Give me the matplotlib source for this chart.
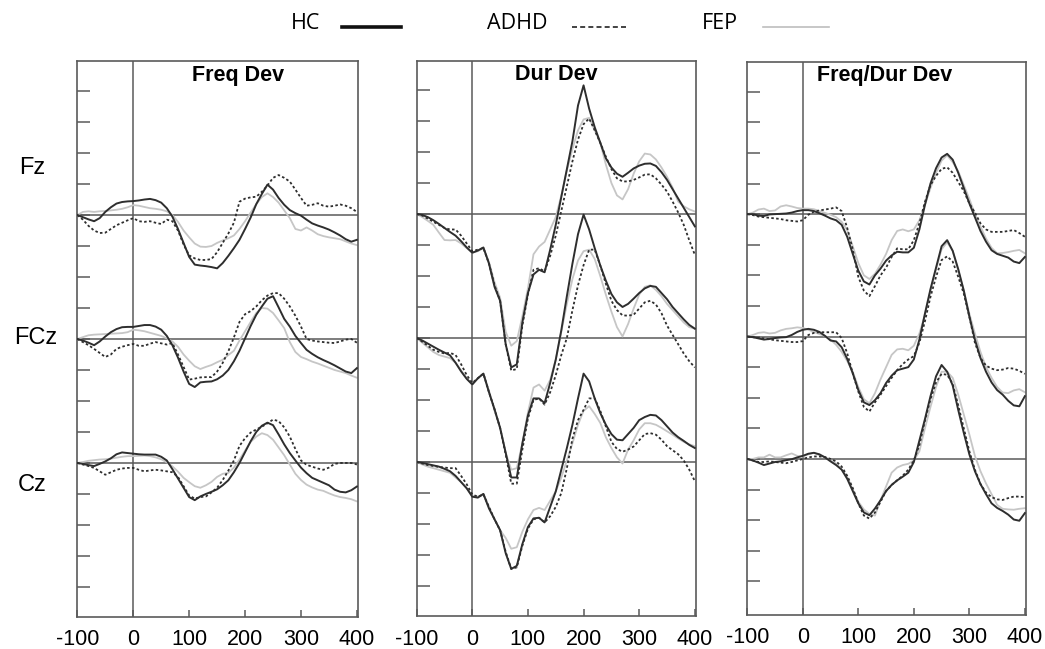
import numpy as np
import matplotlib.pyplot as plt
from matplotlib.lines import Line2D

# time axis (ms), 10 ms steps
ms = np.arange(-100, 401, 10)

# amplitudes (1 tick = 1 unit), relative to each electrode baseline
# ---- Freq Dev ----
freq_fz_hc = [0, -0.07, -0.14, -0.2, -0.1, 0.1, 0.25, 0.37, 0.42, 0.44, 0.45, 0.47, 0.5, 0.52, 0.48, 0.4, 0.22,
              -0.05, -0.45, -0.9, -1.35, -1.6, -1.63, -1.65, -1.68, -1.72, -1.55, -1.32, -1.07, -0.8, -0.45, -0.08,
              0.35, 0.68, 0.98, 0.82, 0.55, 0.33, 0.16, 0.06, -0.02, -0.15, -0.27, -0.34, -0.4, -0.47, -0.56, -0.66,
              -0.78, -0.86, -0.8]
freq_fz_adhd = [0, -0.15, -0.35, -0.5, -0.58, -0.57, -0.45, -0.33, -0.25, -0.17, -0.1, -0.2, -0.22, -0.2, -0.25,
                -0.29, -0.15, -0.2, -0.5, -0.95, -1.3, -1.4, -1.45, -1.45, -1.42, -1.2, -0.9, -0.6, -0.25, 0.43,
                0.53, 0.57, 0.59, 0.75, 0.95, 1.2, 1.29, 1.2, 1.08, 0.82, 0.55, 0.3, 0.33, 0.38, 0.3, 0.27, 0.3,
                0.34, 0.3, 0.22, 0.1]
freq_fz_fep = [0, 0.1, 0.12, 0.1, 0.12, 0.13, 0.15, 0.17, 0.2, 0.25, 0.32, 0.3, 0.26, 0.22, 0.2, 0.17, 0.12, 0.0,
               -0.22, -0.5, -0.72, -0.92, -1.02, -1.03, -1.0, -0.9, -0.82, -0.75, -0.66, -0.45, -0.2, 0.08, 0.35,
               0.58, 0.7, 0.58, 0.4, 0.15, -0.1, -0.45, -0.5, -0.4, -0.5, -0.62, -0.68, -0.72, -0.75, -0.78, -0.85,
               -0.92, -0.97]
freq_fcz_hc = [0, -0.05, -0.12, -0.2, -0.08, 0.08, 0.22, 0.32, 0.38, 0.39, 0.39, 0.42, 0.45, 0.45, 0.4, 0.3, 0.1,
               -0.2, -0.6, -1.05, -1.45, -1.55, -1.4, -1.38, -1.37, -1.3, -1.18, -1.0, -0.72, -0.38, 0.02, 0.42,
               0.78, 1.05, 1.3, 1.38, 1.02, 0.65, 0.4, 0.1, -0.13, -0.35, -0.48, -0.59, -0.68, -0.76, -0.85, -0.95,
               -1.05, -1.1, -0.94]
freq_fcz_adhd = [0, -0.1, -0.2, -0.32, -0.45, -0.58, -0.5, -0.32, -0.25, -0.2, -0.16, -0.22, -0.22, -0.15, -0.1,
                 -0.14, -0.18, -0.13, -0.5, -0.9, -1.31, -1.28, -1.24, -1.23, -1.23, -1.05, -0.77, -0.4, 0.05, 0.55,
                 0.8, 0.9, 1.05, 1.25, 1.4, 1.48, 1.48, 1.3, 1.05, 0.75, 0.4, 0.0, -0.05, -0.08, -0.1, -0.12, -0.13,
                 -0.08, -0.02, 0.0, -0.12]
freq_fcz_fep = [0, 0.06, 0.12, 0.14, 0.15, 0.16, 0.17, 0.18, 0.19, 0.22, 0.3, 0.28, 0.25, 0.2, 0.15, 0.1, 0.02,
                -0.08, -0.25, -0.5, -0.7, -0.88, -0.97, -0.9, -0.84, -0.75, -0.67, -0.52, -0.38, -0.05, 0.25, 0.55,
                0.84, 1.0, 0.98, 0.84, 0.6, 0.35, -0.1, -0.42, -0.58, -0.65, -0.73, -0.79, -0.86, -0.93, -1.0,
                -1.05, -1.1, -1.18, -1.25]
freq_cz_hc = [0, -0.03, -0.07, -0.1, -0.03, 0.05, 0.15, 0.28, 0.34, 0.32, 0.3, 0.28, 0.27, 0.27, 0.27, 0.2, 0.08,
              -0.2, -0.5, -0.8, -1.1, -1.2, -1.08, -1.0, -0.93, -0.85, -0.72, -0.56, -0.3, 0.0, 0.35, 0.7, 1.0,
              1.2, 1.3, 1.22, 0.92, 0.6, 0.32, 0.08, -0.15, -0.33, -0.48, -0.56, -0.64, -0.72, -0.86, -0.93, -0.95,
              -0.88, -0.76]
freq_cz_adhd = [0, -0.05, -0.1, -0.16, -0.27, -0.38, -0.3, -0.22, -0.18, -0.16, -0.16, -0.22, -0.27, -0.24, -0.22,
                -0.24, -0.27, -0.3, -0.45, -0.75, -1.05, -1.15, -1.1, -1.08, -0.95, -0.8, -0.55, -0.25, 0.08, 0.55,
                0.8, 0.98, 1.08, 1.17, 1.28, 1.4, 1.35, 1.15, 0.85, 0.45, 0.08, -0.06, -0.12, -0.18, -0.22, -0.15,
                -0.03, 0.0, 0.0, 0.0, -0.05]
freq_cz_fep = [0, 0.03, 0.07, 0.09, 0.11, 0.12, 0.14, 0.17, 0.2, 0.22, 0.22, 0.23, 0.24, 0.22, 0.18, 0.12, 0.02,
               -0.11, -0.28, -0.48, -0.62, -0.75, -0.8, -0.72, -0.61, -0.45, -0.35, -0.32, -0.15, 0.11, 0.4, 0.68,
               0.85, 0.96, 0.9, 0.75, 0.5, 0.25, -0.05, -0.35, -0.55, -0.7, -0.79, -0.86, -0.9, -0.98, -1.05, -1.1,
               -1.13, -1.17, -1.24]

# ---- Dur Dev ----
dur_fz_hc = [0, -0.03, -0.1, -0.2, -0.32, -0.45, -0.58, -0.7, -0.88, -1.08, -1.25, -1.18, -1.08, -1.6, -2.35, -2.8,
             -4.2, -4.95, -4.85, -3.5, -2.55, -1.95, -1.8, -1.88, -1.15, -0.35, 0.55, 1.45, 2.35, 3.5, 4.15, 3.4,
             2.8, 2.3, 1.8, 1.5, 1.3, 1.2, 1.33, 1.47, 1.56, 1.62, 1.63, 1.55, 1.35, 1.1, 0.8, 0.5, 0.2, -0.1, -0.4]
dur_fz_adhd = [0, -0.05, -0.15, -0.25, -0.35, -0.45, -0.5, -0.5, -0.7, -0.95, -1.2, -1.15, -1.1, -1.6, -2.3, -2.8,
               -4.2, -5.05, -5.0, -3.6, -2.6, -1.8, -1.75, -1.85, -1.35, -0.7, 0.1, 0.9, 1.7, 2.4, 2.9, 3.08, 2.7,
               2.3, 1.85, 1.45, 1.15, 1.05, 1.05, 1.1, 1.18, 1.27, 1.28, 1.15, 0.95, 0.72, 0.4, 0.05, -0.35, -0.85,
               -1.32]
dur_fz_fep = [0, -0.1, -0.22, -0.35, -0.6, -0.84, -0.85, -0.84, -0.95, -1.1, -1.25, -1.2, -1.1, -1.55, -2.2, -2.7,
              -3.8, -4.25, -4.1, -3.3, -2.4, -1.3, -1.05, -0.9, -0.5, -0.1, 0.6, 1.4, 2.1, 2.7, 3.05, 3.1, 2.7, 2.3,
              1.6, 1.0, 0.6, 0.47, 0.8, 1.3, 1.7, 1.95, 1.92, 1.76, 1.5, 1.2, 0.85, 0.4, 0.25, 0.15, 0.08]
dur_fcz_hc = [0, -0.08, -0.18, -0.28, -0.38, -0.47, -0.56, -0.8, -1.08, -1.32, -1.5, -1.3, -1.15, -1.75, -2.3,
              -2.9, -3.7, -4.5, -4.5, -3.4, -2.5, -1.95, -1.95, -2.1, -1.45, -0.7, 0.25, 1.35, 2.4, 3.35, 3.98, 3.5,
              2.9, 2.34, 1.85, 1.42, 1.15, 1.0, 1.1, 1.27, 1.45, 1.6, 1.68, 1.65, 1.45, 1.25, 1.0, 0.8, 0.6, 0.42,
              0.3]
dur_fcz_adhd = [0, -0.12, -0.25, -0.38, -0.45, -0.5, -0.48, -0.55, -0.85, -1.2, -1.45, -1.3, -1.15, -1.75, -2.3,
                -2.9, -3.75, -4.7, -4.7, -3.6, -2.6, -2.0, -1.95, -2.15, -1.75, -1.2, -0.55, 0.0, 0.9, 1.7, 2.35,
                2.85, 2.85, 2.34, 1.75, 1.2, 0.9, 0.73, 0.72, 0.75, 0.95, 1.15, 1.2, 1.08, 0.8, 0.4, 0.1, -0.2,
                -0.5, -0.75, -0.95]
dur_fcz_fep = [0, -0.15, -0.3, -0.45, -0.55, -0.6, -0.65, -0.8, -1.05, -1.3, -1.5, -1.3, -1.15, -1.7, -2.35, -2.9,
               -3.7, -4.25, -4.2, -3.4, -2.4, -1.6, -1.5, -1.7, -1.35, -0.7, 0.2, 1.1, 1.9, 2.5, 2.8, 2.85, 2.55,
               2.0, 1.4, 0.85, 0.35, 0.05, 0.45, 0.95, 1.4, 1.65, 1.7, 1.55, 1.35, 1.1, 0.9, 0.7, 0.5, 0.35, 0.3]
dur_cz_hc = [0, -0.03, -0.07, -0.11, -0.15, -0.22, -0.3, -0.45, -0.65, -0.85, -1.12, -1.15, -1.03, -1.5, -1.85,
             -2.2, -2.94, -3.45, -3.35, -2.65, -2.1, -1.82, -1.8, -1.95, -1.45, -0.95, -0.25, 0.45, 1.2, 2.05, 2.85,
             2.6, 2.05, 1.58, 1.2, 0.9, 0.72, 0.7, 0.9, 1.1, 1.35, 1.45, 1.52, 1.5, 1.35, 1.15, 0.95, 0.8, 0.68,
             0.55, 0.45]
dur_cz_adhd = [0, -0.05, -0.1, -0.13, -0.16, -0.18, -0.2, -0.2, -0.45, -0.72, -1.05, -1.12, -1.05, -1.45, -1.85,
               -2.2, -2.9, -3.45, -3.4, -2.7, -2.15, -1.85, -1.8, -1.95, -1.75, -1.45, -1.0, -0.2, 0.75, 1.35, 1.68,
               2.05, 2.05, 1.65, 1.15, 0.65, 0.42, 0.33, 0.4, 0.5, 0.7, 0.9, 0.93, 0.88, 0.72, 0.51, 0.38, 0.25,
               0.05, -0.25, -0.62]
dur_cz_fep = [0, -0.08, -0.15, -0.2, -0.25, -0.3, -0.35, -0.5, -0.65, -0.85, -1.1, -1.12, -1.03, -1.45, -1.85,
              -2.2, -2.45, -2.8, -2.75, -2.25, -1.85, -1.55, -1.48, -1.55, -1.25, -0.95, -0.5, 0.05, 0.6, 1.2, 1.65,
              1.8, 1.55, 1.26, 0.8, 0.45, 0.15, -0.05, 0.4, 0.7, 1.05, 1.25, 1.25, 1.2, 1.1, 0.99, 0.88, 0.76, 0.65,
              0.57, 0.51]

# ---- Freq/Dur Dev ----
fd_fz_hc = [0, 0, -0.05, -0.06, -0.01, 0, 0.01, 0.02, 0.05, 0.1, 0.13, 0.13, 0.1, 0.03, -0.05, -0.14, -0.2, -0.35,
            -0.74, -1.3, -1.85, -2.2, -2.3, -2.0, -1.78, -1.52, -1.35, -1.23, -1.25, -1.25, -1.1, -0.5, 0.3, 1.0,
            1.5, 1.85, 1.97, 1.78, 1.35, 0.85, 0.35, -0.1, -0.55, -0.9, -1.18, -1.3, -1.36, -1.42, -1.55, -1.6,
            -1.4]
fd_fz_adhd = [0, -0.03, -0.08, -0.1, -0.12, -0.14, -0.16, -0.2, -0.22, -0.24, -0.2, -0.02, 0.08, 0.12, 0.15, 0.18,
              0.22, 0.1, -0.45, -1.15, -2.05, -2.5, -2.68, -2.35, -2.0, -1.75, -1.4, -1.12, -1.15, -1.15, -0.85,
              -0.3, 0.4, 0.95, 1.25, 1.48, 1.53, 1.35, 1.05, 0.75, 0.35, 0.05, -0.3, -0.5, -0.58, -0.58, -0.58,
              -0.55, -0.52, -0.62, -0.74]
fd_fz_fep = [0, 0.05, 0.15, 0.18, 0.1, 0.12, 0.25, 0.29, 0.25, 0.2, 0.18, 0.18, 0.16, 0.1, 0.04, -0.02, -0.1, -0.25,
             -0.52, -1.05, -1.6, -2.0, -2.12, -1.95, -1.65, -1.3, -0.85, -0.55, -0.5, -0.56, -0.5, -0.2, 0.3, 0.85,
             1.35, 1.75, 1.92, 1.7, 1.4, 0.95, 0.5, 0.0, -0.4, -0.8, -1.1, -1.28, -1.27, -1.24, -1.2, -1.17, -1.28]
fd_fcz_hc = [0, -0.02, -0.06, -0.1, -0.08, -0.05, -0.03, -0.02, 0.05, 0.15, 0.22, 0.25, 0.22, 0.15, 0.02, -0.13,
             -0.16, -0.35, -0.73, -1.2, -1.75, -2.15, -2.24, -2.08, -1.85, -1.52, -1.28, -1.1, -1.05, -1.0, -0.75,
             -0.1, 0.75, 1.55, 2.25, 2.95, 3.15, 2.8, 2.2, 1.5, 0.65, -0.1, -0.7, -1.15, -1.5, -1.75, -1.9, -2.1,
             -2.25, -2.28, -1.95]
fd_fcz_adhd = [0, -0.02, -0.05, -0.06, -0.09, -0.12, -0.14, -0.16, -0.18, -0.18, -0.15, 0.05, 0.12, 0.14, 0.14,
               0.14, 0.14, -0.05, -0.55, -1.2, -1.8, -2.3, -2.45, -2.15, -1.9, -1.62, -1.35, -1.1, -0.9, -0.75,
               -0.64, -0.2, 0.5, 1.3, 1.95, 2.5, 2.62, 2.45, 1.95, 1.4, 0.65, -0.2, -0.7, -0.95, -1.05, -1.1, -1.08,
               -1.03, -1.05, -1.12, -1.22]
fd_fcz_fep = [0, 0.05, 0.12, 0.14, 0.1, 0.12, 0.2, 0.25, 0.27, 0.3, 0.28, 0.22, 0.15, 0.08, 0.02, -0.1, -0.27, -0.5,
              -0.8, -1.15, -1.65, -2.05, -2.18, -1.85, -1.4, -1.0, -0.6, -0.42, -0.4, -0.45, -0.3, 0.1, 0.7, 1.5,
              2.2, 2.85, 3.08, 2.8, 2.15, 1.5, 0.75, 0.1, -0.5, -1.0, -1.35, -1.65, -1.83, -1.85, -1.76, -1.72,
              -1.82]
fd_cz_hc = [0, -0.05, -0.12, -0.2, -0.15, -0.1, -0.08, -0.04, -0.01, 0.05, 0.1, 0.17, 0.2, 0.15, 0.05, -0.08, -0.2,
            -0.35, -0.65, -1.05, -1.45, -1.75, -1.84, -1.62, -1.35, -1.05, -0.85, -0.7, -0.58, -0.45, -0.1, 0.6,
            1.3, 2.05, 2.7, 3.07, 2.85, 2.4, 1.6, 0.85, 0.15, -0.4, -0.82, -1.15, -1.45, -1.6, -1.7, -1.82, -1.98,
            -2.02, -1.77]
fd_cz_adhd = [0, -0.05, -0.1, -0.1, -0.08, -0.1, -0.12, -0.14, -0.1, -0.05, 0.0, 0.05, 0.08, 0.08, 0.06, 0.0,
              -0.08, -0.25, -0.55, -0.95, -1.45, -1.85, -1.95, -1.75, -1.4, -1.05, -0.85, -0.7, -0.55, -0.35,
              -0.05, 0.45, 1.25, 1.95, 2.5, 2.78, 2.75, 2.45, 1.75, 1.0, 0.25, -0.35, -0.82, -1.1, -1.25, -1.32,
              -1.34, -1.28, -1.23, -1.23, -1.25]
fd_cz_fep = [0, 0.0, 0.05, 0.05, 0.14, 0.05, 0.05, 0.12, 0.18, 0.1, 0.08, 0.15, 0.2, 0.12, 0.06, -0.05, -0.15,
             -0.35, -0.58, -1.0, -1.4, -1.65, -1.8, -1.85, -1.35, -0.9, -0.45, -0.28, -0.2, -0.16, -0.05, 0.25, 1.0,
             1.7, 2.35, 2.85, 2.85, 2.65, 2.1, 1.45, 0.8, 0.1, -0.4, -0.8, -1.15, -1.5, -1.63, -1.65, -1.66, -1.63,
             -1.61]

panel_titles = ['Freq Dev', 'Dur Dev', 'Freq/Dur Dev']
electrodes = ['Fz', 'FCz', 'Cz']
groups = ['HC', 'ADHD', 'FEP']
xtick_vals = [-100, 0, 100, 200, 300, 400]

panels = [
    [[freq_fz_hc, freq_fz_adhd, freq_fz_fep],
     [freq_fcz_hc, freq_fcz_adhd, freq_fcz_fep],
     [freq_cz_hc, freq_cz_adhd, freq_cz_fep]],
    [[dur_fz_hc, dur_fz_adhd, dur_fz_fep],
     [dur_fcz_hc, dur_fcz_adhd, dur_fcz_fep],
     [dur_cz_hc, dur_cz_adhd, dur_cz_fep]],
    [[fd_fz_hc, fd_fz_adhd, fd_fz_fep],
     [fd_fcz_hc, fd_fcz_adhd, fd_fcz_fep],
     [fd_cz_hc, fd_cz_adhd, fd_cz_fep]],
]

offsets = [0, -4, -8]   # vertical stacking of electrodes
styles = {
    'HC': dict(color='#2e2e2e', lw=1.4, ls='-', zorder=4),
    'ADHD': dict(color='#2e2e2e', lw=1.3, ls=(0, (1.4, 1.3)), zorder=3),
    'FEP': dict(color='#c6c6c6', lw=1.3, ls='-', zorder=2),
}
axis_col = '#5a5a5a'

fig = plt.figure(figsize=(10.45, 6.49), dpi=100)
boxes = [[0.074, 0.0498, 0.2686, 0.8567],
         [0.3987, 0.0508, 0.2673, 0.8559],
         [0.7151, 0.0524, 0.2667, 0.852]]
ylims = [(-12.96, 4.98), (-12.97, 4.95), (-13.1, 4.97)]
title_pos = [(0.5725, 0.974), (0.499, 0.974), (0.494, 0.975)]

for p in range(3):
    ax = fig.add_axes(boxes[p])
    for e in range(3):
        ax.axhline(offsets[e], color=axis_col, lw=1.1, zorder=1)
        for g, grp in enumerate(groups):
            ax.plot(ms, np.array(panels[p][e][g]) + offsets[e], **styles[grp])
    ax.axvline(0, color=axis_col, lw=1.1, zorder=1)
    ax.set_xlim(-100, 402)
    ax.set_ylim(*ylims[p])
    ax.set_xticks(xtick_vals)
    ax.set_xticklabels([str(v) for v in xtick_vals], fontsize=15.5, family='Liberation Sans')
    ax.set_yticks(np.arange(-12, 5, 1))
    ax.set_yticklabels([])
    ax.tick_params(axis='x', direction='in', length=5, width=1.1, color=axis_col, pad=9)
    ax.tick_params(axis='y', direction='in', length=9, width=1.1, color=axis_col)
    for s in ax.spines.values():
        s.set_color(axis_col)
        s.set_linewidth(1.2)
    ax.text(title_pos[p][0], title_pos[p][1], panel_titles[p], transform=ax.transAxes,
            ha='center', va='center', fontsize=15.5, fontweight='bold', family='Liberation Sans')

# electrode labels on the left
label_pos = [(0.0306, 0.741), (0.0344, 0.479), (0.0306, 0.253)]
for name, (lx, ly) in zip(electrodes, label_pos):
    fig.text(lx, ly, name, ha='center', va='center', fontsize=17, family='Liberation Sans')

# legend across the top (label first, then line sample)
leg_text_x = [0.2785, 0.4656, 0.6718]
leg_line_x = [(0.3268, 0.3835), (0.5477, 0.6017), (0.7306, 0.7931)]
leg_y = 0.9615
leg_styles = {
    'HC': dict(color='#111111', lw=2.6, ls='-'),
    'ADHD': dict(color='#222222', lw=1.2, ls=(0, (3.0, 1.9))),
    'FEP': dict(color='#bdbdbd', lw=1.2, ls='-'),
}
for g, grp in enumerate(groups):
    fig.text(leg_text_x[g], leg_y + 0.002, grp, ha='left', va='center', fontsize=15.5, family='Open Sans')
    fig.add_artist(Line2D(leg_line_x[g], [leg_y - 0.003, leg_y - 0.003], transform=fig.transFigure,
                          **leg_styles[grp]))

fig.savefig('out.png', dpi=100)
